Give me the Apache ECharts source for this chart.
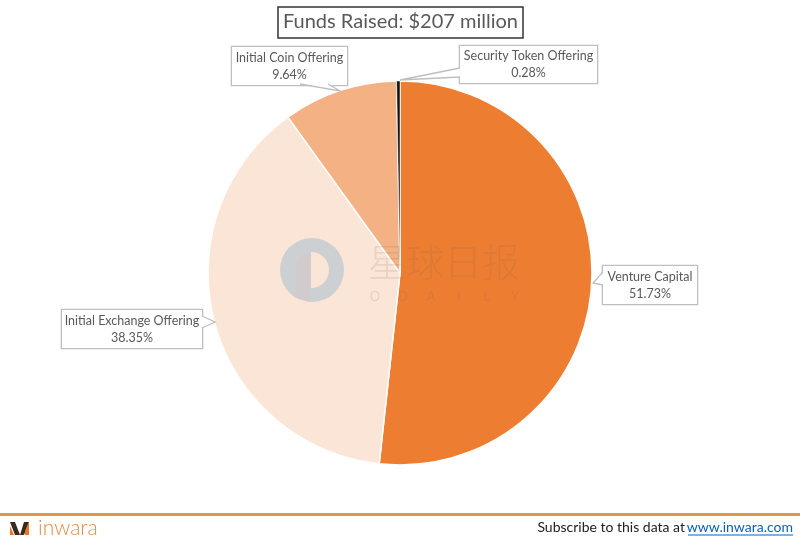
<!DOCTYPE html>
<html>
<head>
<meta charset="utf-8">
<style>
html, body { margin: 0; padding: 0; background: #fff; }
#main { width: 800px; height: 541px; }
</style>
<script src="https://cdn.jsdelivr.net/npm/echarts@6/dist/echarts.min.js"></script>
</head>
<body>
<div id="main"></div>
<script>
var categories = ['Venture Capital', 'Initial Exchange Offering', 'Initial Coin Offering', 'Security Token Offering'];
var shares = [51.73, 38.35, 9.64, 0.28];
var sliceColors = ['#ED7D31', '#FBE5D6', '#F4B183', '#111111'];

// callout boxes: left, top, width, height
var boxes = [
    [603, 267, 94, 36],
    [62, 311, 140, 36],
    [232, 48, 115, 36],
    [460, 47, 137, 35]
];
// callout tails: base point, tip, base point
var tails = [
    [[603, 272], [593, 283], [603, 285]],
    [[202, 316], [215, 322], [202, 328]],
    [[300, 84], [340, 91], [328, 84]],
    [[460, 68], [400, 80], [460, 77]]
];
var watermarkLetters = ['O', 'D', 'A', 'I', 'L', 'Y'];

var graphics = [];

tails.forEach(function (t) {
    graphics.push({type: 'polygon', z: 100, shape: {points: t}, style: {fill: '#fff'}});
    graphics.push({type: 'polyline', z: 101, shape: {points: t}, style: {stroke: '#BFBFBF', lineWidth: 1.3, fill: null}});
});

// watermark
graphics.push({type: 'circle', z: 110, shape: {cx: 312, cy: 270, r: 32}, style: {fill: '#CDD0D2'}});
graphics.push({
    type: 'polygon', z: 111,
    shape: {points: [[296, 262], [298, 257], [303, 254], [310, 253], [310, 302], [303, 300], [296, 297]]},
    style: {fill: '#D2CBCE'}
});
graphics.push({type: 'sector', z: 112, shape: {cx: 311, cy: 270, r: 18, r0: 0, startAngle: -Math.PI / 2, endAngle: Math.PI / 2}, style: {fill: '#FBE5D6'}});
graphics.push({
    type: 'text', z: 110, x: 444, y: 262,
    style: {
        text: '星球日报', fill: 'rgba(120,110,100,0.15)',
        font: '200 38px "Noto Sans CJK SC"', align: 'center', verticalAlign: 'middle'
    }
});
watermarkLetters.forEach(function (letter, i) {
    graphics.push({
        type: 'text', z: 110, x: 375 + i * 28, y: 297,
        style: {
            text: letter, fill: 'rgba(120,110,100,0.18)',
            font: '14px "Open Sans"', align: 'center', verticalAlign: 'middle'
        }
    });
});

// footer
graphics.push({type: 'rect', shape: {x: 0, y: 513, width: 800, height: 3}, style: {fill: '#E9924F'}});
graphics.push({type: 'polygon', shape: {points: [[10, 522], [15, 522], [20, 535], [15, 535]]}, style: {fill: '#3A2A1E'}});
graphics.push({type: 'polygon', shape: {points: [[20, 535], [24, 522], [29, 522], [24, 535]]}, style: {fill: '#3A2A1E'}});
graphics.push({type: 'polygon', shape: {points: [[10, 526], [14, 535], [10, 535]]}, style: {fill: '#E8762D'}});
graphics.push({type: 'polygon', shape: {points: [[25, 531], [29, 522], [29, 535], [25, 535]]}, style: {fill: '#E8762D'}});
graphics.push({
    type: 'text', x: 38, y: 528,
    style: {text: 'inwara', fill: '#E58B4B', font: '300 21px Lato', verticalAlign: 'middle'}
});
graphics.push({
    type: 'text', x: 685, y: 527,
    style: {text: 'Subscribe to this data at', fill: '#222', font: '14px Lato', align: 'right', verticalAlign: 'middle'}
});
graphics.push({
    type: 'text', x: 793, y: 527,
    style: {text: 'www.inwara.com', fill: '#0563C1', font: '14px Lato', align: 'right', verticalAlign: 'middle'}
});
graphics.push({type: 'line', shape: {x1: 688, y1: 535, x2: 793, y2: 535}, style: {stroke: '#0563C1', lineWidth: 1}});

var option = {
    backgroundColor: '#fff',
    animation: false,
    title: {
        text: 'Funds Raised: $207 million',
        left: 278,
        top: 7,
        padding: [5, 5, 6, 5],
        borderColor: '#333',
        borderWidth: 1.5,
        textStyle: {color: '#595959', fontFamily: 'Lato', fontSize: 20, fontWeight: 'normal'}
    },
    graphic: graphics,
    series: [
        {
            type: 'pie',
            center: [400, 273],
            radius: 192,
            startAngle: 90,
            clockwise: true,
            percentPrecision: 2,
            data: categories.map(function (name, i) {
                return {
                    name: name,
                    value: shares[i],
                    itemStyle: {color: sliceColors[i], borderWidth: i === 3 ? 0.5 : 1.5}
                };
            }),
            itemStyle: {borderColor: '#fff'},
            label: {
                formatter: function (p) { return p.name + '\n' + shares[p.dataIndex].toFixed(2) + '%'; },
                color: '#595959',
                fontFamily: 'Lato',
                fontSize: 12.5,
                lineHeight: 17,
                align: 'center',
                padding: [2, 0, 0, 0],
                backgroundColor: '#fff',
                borderColor: '#BFBFBF',
                borderWidth: 1.3
            },
            labelLine: {show: false},
            labelLayout: function (params) {
                var b = boxes[params.dataIndex];
                return {x: b[0] + b[2] / 2, y: b[1] + b[3] / 2, align: 'center', verticalAlign: 'middle', width: b[2], height: b[3]};
            }
        }
    ]
};
var chartDom = document.getElementById('main');
var myChart = echarts.init(chartDom);
myChart.setOption(option);
</script>
</body>
</html>
